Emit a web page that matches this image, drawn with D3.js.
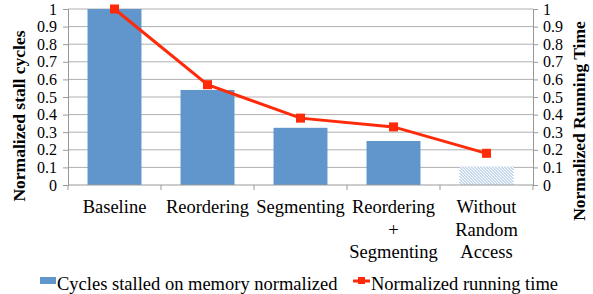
<!DOCTYPE html>
<html>
<head>
<meta charset="utf-8">
<script src="https://cdn.jsdelivr.net/npm/d3@7"></script>
</head>
<body style="margin:0">
<div id="chart"></div>
<script>
var categories = [["Baseline"], ["Reordering"], ["Segmenting"], ["Reordering", "+", "Segmenting"], ["Without", "Random", "Access"]];
var stallCycles = [1.0, 0.54, 0.325, 0.25, 0.105];
var runningTime = [1.0, 0.57, 0.38, 0.33, 0.18];
var yTicks = [0, 0.1, 0.2, 0.3, 0.4, 0.5, 0.6, 0.7, 0.8, 0.9, 1];

var FONT = "Liberation Serif";
var outerWidth = 593, outerHeight = 294;
var margin = {top: 9, right: 60, bottom: 109, left: 68};
var width = outerWidth - margin.left - margin.right,
    height = outerHeight - margin.top - margin.bottom;

var svg = d3.select("#chart").append("svg")
    .attr("width", outerWidth)
    .attr("height", outerHeight)
    .style("font-family", FONT);

function txt(sel, size, bold) {
    sel.style("font-family", FONT)
        .style("font-size", size + "px")
        .style("font-weight", bold ? "bold" : "normal")
        .attr("fill", "#000");
    return sel;
}

var g = svg.append("g")
    .attr("transform", "translate(" + margin.left + "," + margin.top + ")");

var x = d3.scaleBand()
    .domain(d3.range(categories.length))
    .range([0, width])
    .paddingInner(0.42)
    .paddingOuter(0.21);

var y = d3.scaleLinear().domain([0, 1]).range([height, 0]);

// gridlines
g.append("g").selectAll("line")
    .data(yTicks.slice(1))
    .enter().append("line")
    .attr("x1", 0).attr("x2", width)
    .attr("y1", function(d) { return y(d); })
    .attr("y2", function(d) { return y(d); })
    .attr("stroke", "#b0b0b0").attr("stroke-width", 1);

// bars (last one is hatched)
g.selectAll(".bar")
    .data(stallCycles)
    .enter().append("rect")
    .attr("class", "bar")
    .attr("x", function(d, i) { return x(i); })
    .attr("width", x.bandwidth())
    .attr("y", function(d) { return y(d); })
    .attr("height", function(d) { return height - y(d); })
    .attr("fill", function(d, i) { return i === 4 ? "#fff" : "#6096cc"; });

// hatch strokes for the last bar, clipped by hand to its box
var hx0 = x(4), hx1 = x(4) + x.bandwidth(), hy0 = y(stallCycles[4]), hy1 = y(0);
var hatch = [];
for (var c = hx0 - hy1; c < hx1 - hy0; c += 3) {
    var a = Math.max(hx0, hy0 + c), b = Math.min(hx1, hy1 + c);
    if (b > a) hatch.push([a, a - c, b, b - c]);
}
g.append("g").selectAll("line")
    .data(hatch)
    .enter().append("line")
    .attr("x1", function(d) { return d[0]; })
    .attr("y1", function(d) { return d[1]; })
    .attr("x2", function(d) { return d[2]; })
    .attr("y2", function(d) { return d[3]; })
    .attr("stroke", "#8fb3dc")
    .attr("stroke-width", 1);

// y axes
function styleAxis(sel) {
    sel.attr("font-family", null);
    sel.selectAll("line, path").attr("stroke", "#999");
    txt(sel.selectAll("text"), 16, false);
}
var yAxisL = d3.axisLeft(y).tickValues(yTicks).tickSize(5).tickPadding(6)
    .tickFormat(d3.format("~g"));
g.append("g").call(yAxisL).call(styleAxis);

var yAxisR = d3.axisRight(y).tickValues(yTicks).tickSize(5).tickPadding(5)
    .tickFormat(d3.format("~g"));
g.append("g").attr("transform", "translate(" + width + ",0)").call(yAxisR).call(styleAxis);

// x axis with ticks between categories
var xb = g.append("g").attr("transform", "translate(0," + height + ")");
xb.append("line").attr("x1", 0).attr("x2", width).attr("stroke", "#999");
var step = width / categories.length;
xb.selectAll(".xt")
    .data(d3.range(categories.length + 1))
    .enter().append("line")
    .attr("x1", function(d) { return d * step; })
    .attr("x2", function(d) { return d * step; })
    .attr("y1", 0).attr("y2", 5)
    .attr("stroke", "#999");

// category labels, one text per line
categories.forEach(function(lines, i) {
    txt(xb.selectAll(null)
        .data(lines)
        .enter().append("text")
        .attr("text-anchor", "middle")
        .attr("x", x(i) + x.bandwidth() / 2)
        .attr("y", function(d, k) { return 28 + k * 22.5; }), 18.5, false)
        .text(function(d) { return d; });
});

// line series
var line = d3.line()
    .x(function(d, i) { return x(i) + x.bandwidth() / 2; })
    .y(function(d) { return y(d); });
g.append("path")
    .datum(runningTime)
    .attr("d", line)
    .attr("fill", "none")
    .attr("stroke", "#ff2a0a")
    .attr("stroke-width", 3);
g.selectAll(".mk")
    .data(runningTime)
    .enter().append("rect")
    .attr("x", function(d, i) { return x(i) + x.bandwidth() / 2 - 4.5; })
    .attr("y", function(d) { return y(d) - 4.5; })
    .attr("width", 9).attr("height", 9)
    .attr("fill", "#ff2a0a");

// axis titles
txt(svg.append("text")
    .attr("transform", "translate(25,116) rotate(-90)")
    .attr("text-anchor", "middle"), 17.5, true)
    .text("Normalized stall cycles");
txt(svg.append("text")
    .attr("transform", "translate(585,121) rotate(-90)")
    .attr("text-anchor", "middle"), 17.5, true)
    .text("Normalized Running Time");

// legend
var lg = svg.append("g").attr("transform", "translate(0,290)");
lg.append("rect").attr("x", 40).attr("y", -13).attr("width", 16).attr("height", 7).attr("fill", "#6096cc");
txt(lg.append("text").attr("x", 57).attr("y", 0), 18.5, false)
    .text("Cycles stalled on memory normalized");
lg.append("line").attr("x1", 353).attr("x2", 370).attr("y1", -9).attr("y2", -9)
    .attr("stroke", "#ff2a0a").attr("stroke-width", 3);
lg.append("rect").attr("x", 358).attr("y", -13).attr("width", 7).attr("height", 7).attr("fill", "#ff2a0a");
txt(lg.append("text").attr("x", 371).attr("y", 0), 18.5, false)
    .text("Normalized running time");
</script>
</body>
</html>
